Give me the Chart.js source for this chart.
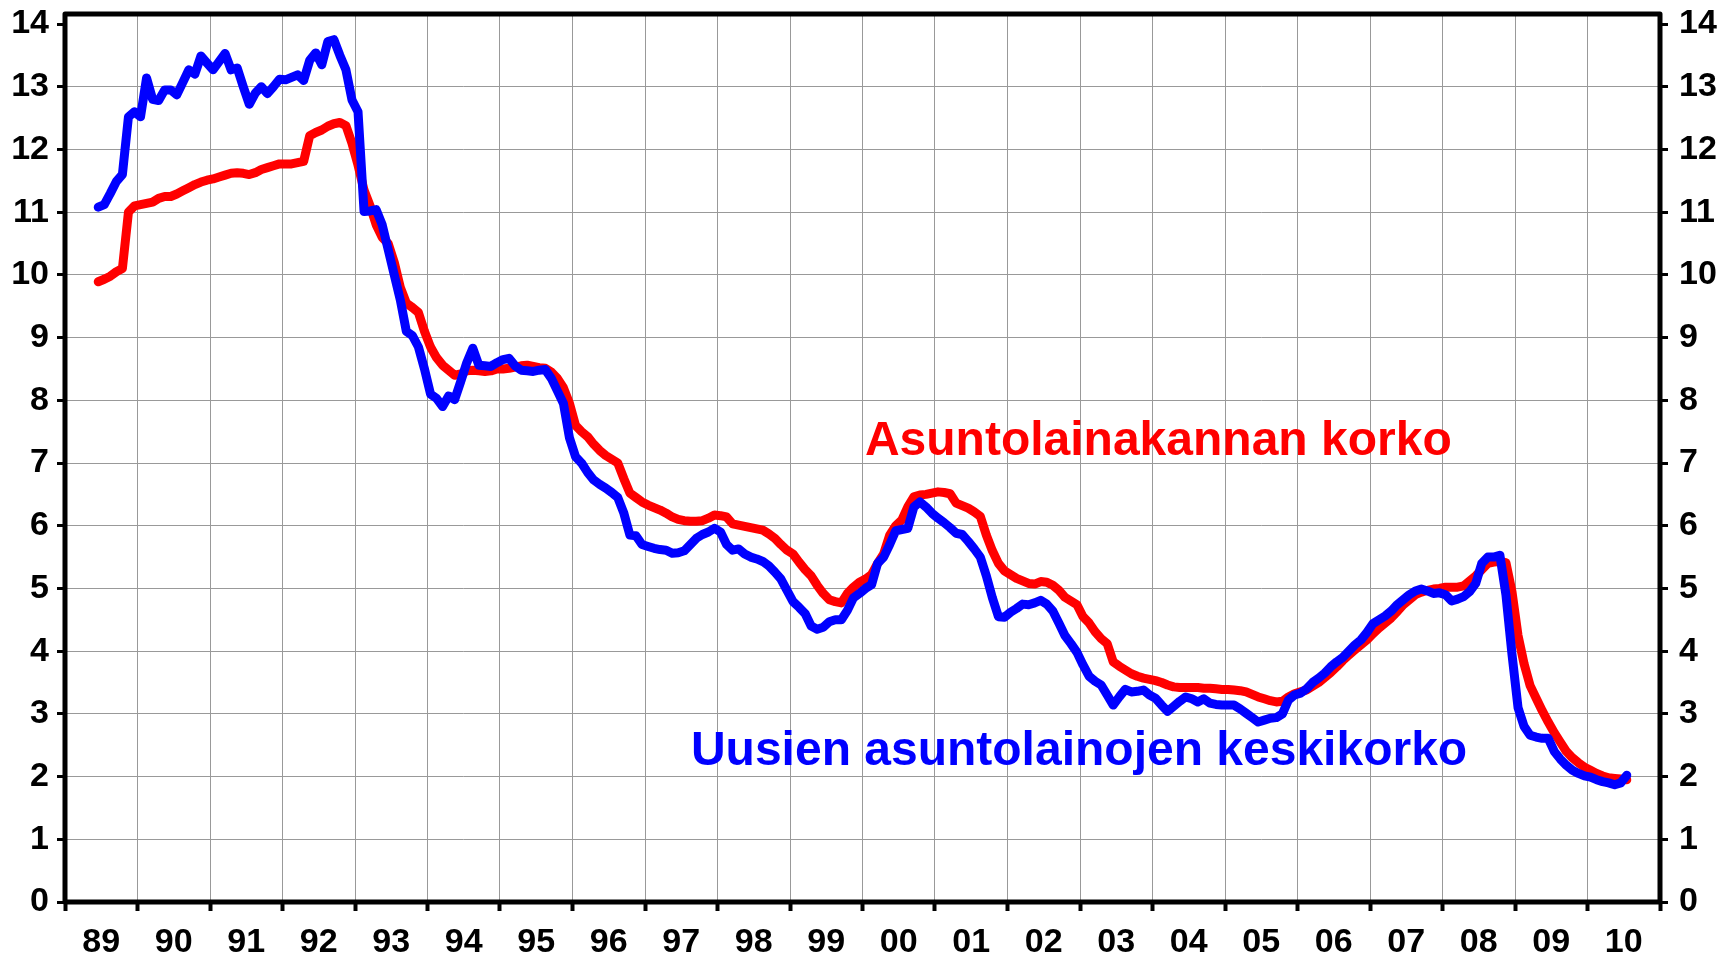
<!DOCTYPE html>
<html>
<head>
<meta charset="utf-8">
<script src="https://cdn.jsdelivr.net/npm/chart.js@4.4.0/dist/chart.umd.min.js"></script>
<style>
  html, body { margin: 0; padding: 0; background: #ffffff; }
</style>
</head>
<body>
<canvas id="myChart" width="1732" height="959"></canvas>
<script>
// months counted from Jan 1989 (= 0), first value is Jun 1989
var firstMonth = 5;

var yearLabels = ['89','90','91','92','93','94','95','96','97','98','99',
                  '00','01','02','03','04','05','06','07','08','09','10'];
var yearTicks = [0,12,24,36,48,60,72,84,96,108,120,132,144,156,168,180,192,204,216,228,240,252,264];
var valueTicks = [0,1,2,3,4,5,6,7,8,9,10,11,12,13,14];

// Asuntolainakannan korko (red)
var stockRate = [
  9.89, 9.93, 9.98, 10.05, 10.1, 11.0, 11.1,
  11.12, 11.14, 11.16, 11.22, 11.25, 11.25, 11.29, 11.34, 11.39, 11.44, 11.48, 11.51,
  11.53, 11.56, 11.59, 11.62, 11.63, 11.62, 11.6, 11.63, 11.68, 11.71, 11.74, 11.77,
  11.77, 11.77, 11.79, 11.81, 12.22, 12.27, 12.31, 12.37, 12.41, 12.43, 12.38, 12.1,
  11.75, 11.35, 11.1, 10.8, 10.6, 10.5, 10.2, 9.8, 9.55, 9.48, 9.4, 9.1,
  8.85, 8.68, 8.56, 8.48, 8.4, 8.42, 8.47, 8.48, 8.47, 8.46, 8.47, 8.5,
  8.5, 8.51, 8.53, 8.55, 8.56, 8.54, 8.52, 8.51, 8.45, 8.35, 8.2, 7.95,
  7.6, 7.5, 7.42, 7.3, 7.2, 7.12, 7.06, 7.0, 6.75, 6.52, 6.45, 6.38,
  6.33, 6.29, 6.25, 6.2, 6.14, 6.1, 6.08, 6.07, 6.07, 6.08, 6.12, 6.17,
  6.16, 6.14, 6.03, 6.01, 5.99, 5.97, 5.95, 5.93, 5.87, 5.8, 5.7, 5.61,
  5.55, 5.42, 5.3, 5.2, 5.05, 4.92, 4.82, 4.79, 4.77, 4.92, 5.02, 5.1,
  5.15, 5.22, 5.4, 5.55, 5.85, 6.0, 6.09, 6.3, 6.46, 6.49, 6.5, 6.52,
  6.54, 6.53, 6.51, 6.36, 6.32, 6.28, 6.22, 6.15, 5.85, 5.6, 5.4, 5.28,
  5.22, 5.16, 5.12, 5.08, 5.07, 5.11, 5.1, 5.05, 4.97, 4.86, 4.8, 4.74,
  4.55, 4.45, 4.31, 4.2, 4.12, 3.83, 3.76, 3.7, 3.64, 3.6, 3.57, 3.55,
  3.53, 3.5, 3.46, 3.43, 3.42, 3.42, 3.42, 3.42, 3.41, 3.41, 3.4, 3.39,
  3.39, 3.38, 3.37, 3.35, 3.31, 3.27, 3.24, 3.21, 3.19, 3.2, 3.27, 3.32,
  3.35, 3.38, 3.44, 3.5, 3.58, 3.66, 3.75, 3.85, 3.94, 4.02, 4.1, 4.18,
  4.28, 4.37, 4.45, 4.53, 4.63, 4.74, 4.82, 4.9, 4.94, 4.97, 4.99, 5.0,
  5.02, 5.02, 5.02, 5.04, 5.12, 5.2, 5.3, 5.4, 5.42, 5.43, 5.41, 4.95,
  4.25, 3.8, 3.45, 3.25, 3.05, 2.87, 2.7, 2.55, 2.4, 2.3, 2.22, 2.15,
  2.1, 2.05, 2.01, 1.98, 1.97, 1.96, 1.95
];

// Uusien asuntolainojen keskikorko (blue)
var newLoanRate = [
  11.08, 11.12, 11.3, 11.49, 11.6, 12.52, 12.6,
  12.52, 13.14, 12.8, 12.78, 12.95, 12.95, 12.87, 13.07, 13.27, 13.2, 13.49, 13.38,
  13.27, 13.4, 13.53, 13.27, 13.3, 13.0, 12.72, 12.9, 13.0, 12.89, 13.0, 13.12,
  13.11, 13.15, 13.19, 13.1, 13.42, 13.54, 13.35, 13.72, 13.75, 13.5, 13.27, 12.79,
  12.6, 11.01, 11.02, 11.04, 10.8, 10.4, 10.0, 9.6, 9.1, 9.03, 8.85, 8.5,
  8.1, 8.03, 7.9, 8.07, 8.01, 8.3, 8.6, 8.83, 8.56, 8.55, 8.54, 8.6,
  8.65, 8.67, 8.55, 8.48, 8.47, 8.46, 8.48, 8.49, 8.35, 8.15, 7.95, 7.4,
  7.1, 7.0, 6.85, 6.73, 6.66, 6.6, 6.53, 6.45, 6.2, 5.85, 5.84, 5.7,
  5.67, 5.64, 5.62, 5.61, 5.56, 5.57, 5.6, 5.7, 5.8, 5.86, 5.9, 5.96,
  5.9, 5.7, 5.61, 5.63, 5.55, 5.5, 5.47, 5.43, 5.36, 5.26, 5.15, 4.97,
  4.79, 4.7, 4.6, 4.4, 4.35, 4.38, 4.47, 4.5, 4.5, 4.65, 4.85, 4.92,
  5.0, 5.06, 5.4, 5.5, 5.7, 5.92, 5.94, 5.96, 6.3, 6.38, 6.3, 6.2,
  6.12, 6.05, 5.97, 5.88, 5.86, 5.75, 5.63, 5.5, 5.2, 4.85, 4.55, 4.54,
  4.62, 4.68, 4.75, 4.74, 4.77, 4.81, 4.75, 4.64, 4.45, 4.25, 4.12, 3.98,
  3.78, 3.6, 3.52, 3.46, 3.3, 3.14, 3.27, 3.39, 3.35, 3.36, 3.38, 3.3,
  3.25, 3.14, 3.04, 3.12, 3.2, 3.27, 3.24, 3.19, 3.24, 3.17, 3.15, 3.14,
  3.14, 3.14, 3.08, 3.01, 2.94, 2.87, 2.9, 2.93, 2.94, 3.0, 3.22, 3.3,
  3.33, 3.4, 3.5, 3.57, 3.65, 3.75, 3.83, 3.9, 4.0, 4.1, 4.18, 4.3,
  4.44, 4.5, 4.56, 4.64, 4.74, 4.82, 4.9, 4.96, 4.99, 4.96, 4.92, 4.93,
  4.9, 4.8, 4.83, 4.87, 4.95, 5.08, 5.4, 5.5, 5.5, 5.53, 4.9, 3.95,
  3.1, 2.8, 2.66, 2.63, 2.61, 2.61, 2.4, 2.28, 2.18, 2.1, 2.05, 2.01,
  1.99, 1.95, 1.92, 1.9, 1.87, 1.9, 2.02
];

var seriesNames = ['Asuntolainakannan korko', 'Uusien asuntolainojen keskikorko'];

function toPoints(values) {
  return values.map(function (v, i) {
    return { x: firstMonth + i + 0.5, y: v };
  });
}

var fontFamily = "'Liberation Sans', Arial, sans-serif";

// text labels next to the lines + black frame round the plot
var extras = {
  id: 'extras',
  afterDatasetsDraw: function (chart) {
    var c = chart.ctx, a = chart.chartArea;
    var xs = chart.scales.x, ys = chart.scales.y;
    c.save();
    c.font = 'bold 48px ' + fontFamily;
    c.textAlign = 'left';
    c.textBaseline = 'alphabetic';
    c.fillStyle = '#ff0000';
    c.fillText(seriesNames[0], xs.getPixelForValue(132.4), ys.getPixelForValue(7.13));
    c.fillStyle = '#0000ff';
    c.fillText(seriesNames[1], xs.getPixelForValue(103.6), ys.getPixelForValue(2.185));
    c.strokeStyle = '#000000';
    c.lineWidth = 5;
    c.lineJoin = 'round';
    c.strokeRect(a.left, a.top, a.right - a.left, a.bottom - a.top);
    c.restore();
  }
};

function yAxis(pos, w, pad, grid) {
  return {
    type: 'linear',
    position: pos,
    min: 0,
    max: 14.16,
    afterBuildTicks: function (s) {
      s.ticks = valueTicks.map(function (v) { return { value: v }; });
    },
    afterFit: function (s) {
      s.width = w;
      s.paddingTop = 0;
      s.paddingBottom = 0;
    },
    border: { display: false },
    grid: {
      drawOnChartArea: grid,
      color: function (ctx) {
        return (ctx.tick && (ctx.tick.value === 14 || ctx.tick.value === 0)) ? 'rgba(0,0,0,0)' : '#999999';
      },
      lineWidth: 1,
      tickLength: 8,
      tickWidth: 3,
      tickColor: '#000000'
    },
    ticks: {
      color: '#000000',
      padding: pad,
      font: { family: fontFamily, size: 34, weight: 'bold' }
    }
  };
}

var ctx2 = document.getElementById('myChart').getContext('2d');
var myChart = new Chart(ctx2, {
  type: 'line',
  data: {
    datasets: [{
      label: seriesNames[0],
      data: toPoints(stockRate),
      borderColor: '#ff0000',
      borderWidth: 9,
      order: 2
    }, {
      label: seriesNames[1],
      data: toPoints(newLoanRate),
      borderColor: '#0000ff',
      borderWidth: 9,
      order: 1
    }]
  },
  options: {
    responsive: false,
    animation: false,
    devicePixelRatio: 1,
    layout: { padding: { top: 14, left: 0, right: 0, bottom: 0 } },
    elements: {
      point: { radius: 0 },
      line: { tension: 0, borderJoinStyle: 'round', borderCapStyle: 'round', fill: false }
    },
    plugins: {
      legend: { display: false },
      tooltip: { enabled: false }
    },
    scales: {
      x: {
        type: 'linear',
        position: 'bottom',
        min: 0,
        max: 264,
        afterBuildTicks: function (s) {
          s.ticks = yearTicks.map(function (v) { return { value: v }; });
        },
        afterFit: function (s) {
          s.height = 57;
          s.paddingLeft = 0;
          s.paddingRight = 0;
        },
        border: { display: false },
        grid: {
          color: '#999999',
          lineWidth: 1,
          tickLength: 9,
          tickWidth: 4,
          tickColor: '#000000'
        },
        ticks: {
          autoSkip: false,
          maxRotation: 0,
          labelOffset: 36.25,
          padding: 11,
          color: '#000000',
          font: { family: fontFamily, size: 34, weight: 'bold' },
          callback: function (value, index) {
            return index < yearLabels.length ? yearLabels[index] : '';
          }
        }
      },
      y: yAxis('left', 65, 8, true),
      y2: yAxis('right', 72, 11, false)
    }
  },
  plugins: [extras]
});
</script>
</body>
</html>
